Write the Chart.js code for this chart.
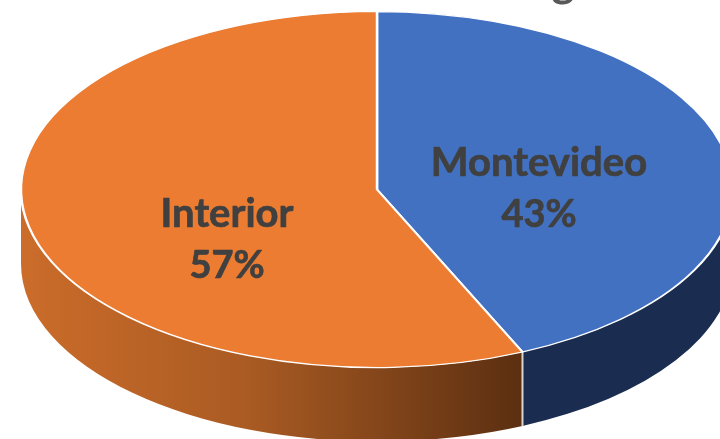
<!DOCTYPE html>
<html>
<head>
<meta charset="utf-8">
<script src="https://cdn.jsdelivr.net/npm/chart.js@4/dist/chart.umd.min.js"></script>
<style>
html,body{margin:0;padding:0;background:#fff;overflow:hidden}
#wrap{position:relative;width:720px;height:439px}
canvas{display:block}
</style>
</head>
<body>
<div id="wrap"><canvas id="c" width="720" height="439"></canvas></div>
<script>
const categories = ['Montevideo', 'Interior'];
const shares = [43.3, 56.7];
const topColors = ['#4371C1', '#EB7C31'];
const titleFragment = 'g';

const RADIUS = 356, TILT = 0.5, DEPTH = 74;
const FONT = 'bold 40px Lato, "Open Sans", sans-serif';
const PCT_FONT = 'bold 38px Lato, "Open Sans", sans-serif';
const labelSpots = [{x: 539, y: 163}, {x: 227, y: 214}];

function sideFill(ctx, i) {
  if (i === 0) return '#1A2D50';
  const g = ctx.createLinearGradient(21, 0, 522, 0);
  g.addColorStop(0, '#CB6C2A');
  g.addColorStop(0.45, '#AA5B23');
  g.addColorStop(1, '#5B2F11');
  return g;
}

const pie3d = {
  id: 'pie3d',
  beforeDatasetsDraw(chart) {
    const ctx = chart.ctx;
    const arcs = chart.getDatasetMeta(0).data;
    const cx = arcs[0].x, cy = arcs[0].y;
    arcs.forEach((a, i) => {
      const s = a.startAngle, e = a.endAngle;
      const ranges = [[s, e], [s - 2 * Math.PI, e - 2 * Math.PI]];
      ranges.forEach(([r0, r1]) => {
        const a0 = Math.max(r0, 0), a1 = Math.min(r1, Math.PI);
        if (a1 <= a0) return;
        ctx.save();
        ctx.beginPath();
        ctx.ellipse(cx, cy + DEPTH, a.outerRadius, a.outerRadius * TILT, 0, a0, a1);
        ctx.ellipse(cx, cy, a.outerRadius, a.outerRadius * TILT, 0, a1, a0, true);
        ctx.closePath();
        ctx.fillStyle = sideFill(ctx, i);
        ctx.fill();
        ctx.restore();
      });
    });
    // seam between the two walls
    const seam = arcs[0].endAngle;
    const sx = cx + Math.cos(seam) * arcs[0].outerRadius;
    const sy = cy + Math.sin(seam) * arcs[0].outerRadius * TILT;
    ctx.save();
    ctx.strokeStyle = '#D9D4CE';
    ctx.lineWidth = 2;
    ctx.beginPath();
    ctx.moveTo(sx, sy);
    ctx.lineTo(sx, sy + DEPTH);
    ctx.stroke();
    ctx.restore();

    ctx.save();
    ctx.translate(cx, cy);
    ctx.scale(1, TILT);
    ctx.translate(-cx, -cy);
  },
  afterDatasetsDraw(chart) {
    const ctx = chart.ctx;
    ctx.restore();
    const total = shares.reduce((p, v) => p + v, 0);
    ctx.save();
    ctx.fillStyle = '#404040';
    ctx.strokeStyle = '#404040';
    ctx.lineWidth = 0.7;
    ctx.lineJoin = 'round';
    ctx.textAlign = 'center';
    ctx.textBaseline = 'middle';
    categories.forEach((name, i) => {
      const pct = Math.round(shares[i] / total * 100) + '%';
      ctx.font = FONT;
      ctx.fillText(name, labelSpots[i].x, labelSpots[i].y);
      ctx.strokeText(name, labelSpots[i].x, labelSpots[i].y);
      ctx.font = PCT_FONT;
      ctx.fillText(pct, labelSpots[i].x, labelSpots[i].y + 52);
      ctx.strokeText(pct, labelSpots[i].x, labelSpots[i].y + 52);
    });
    ctx.fillStyle = '#595959';
    ctx.font = 'bold 44px Lato, "Open Sans", sans-serif';
    ctx.textBaseline = 'alphabetic';
    ctx.fillText(titleFragment, 563, -3);
    ctx.restore();
  }
};

new Chart(document.getElementById('c'), {
  type: 'pie',
  data: {
    labels: categories,
    datasets: [{
      data: shares,
      backgroundColor: topColors,
      borderColor: '#FFFFFF',
      borderWidth: 2.5,
      radius: RADIUS,
      clip: false
    }]
  },
  options: {
    responsive: false,
    animation: false,
    events: [],
    layout: {padding: {left: 34, right: 0, top: 0, bottom: 60}},
    plugins: {legend: {display: false}, tooltip: {enabled: false}, title: {display: false}}
  },
  plugins: [pie3d]
});
</script>
</body>
</html>
